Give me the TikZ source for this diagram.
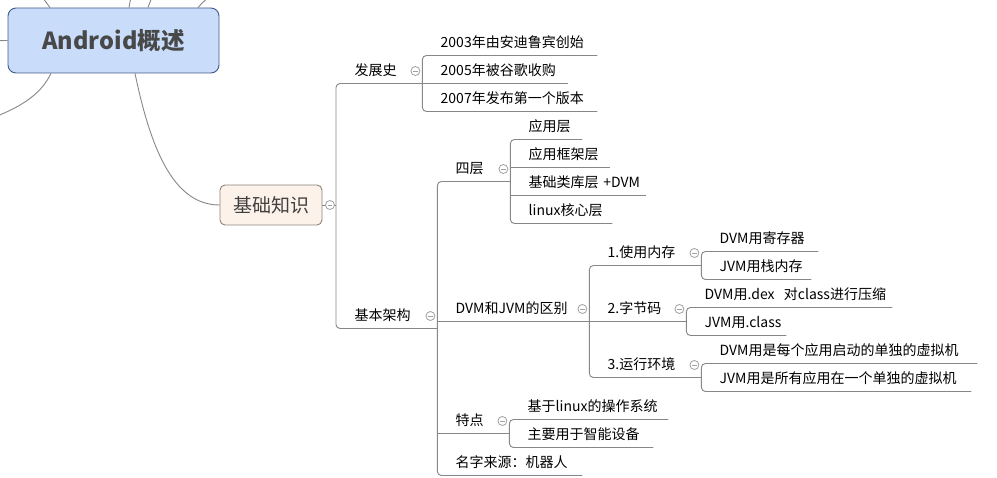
\documentclass[tikz,border=0pt]{standalone}
\usepackage{fontspec}
\setmainfont{Noto Sans CJK SC}
\usepackage{tikz}
\usetikzlibrary{positioning,calc}
\definecolor{rootfill}{RGB}{201,221,250}
\definecolor{rootedge}{RGB}{62,90,138}
\definecolor{roottext}{RGB}{72,72,72}
\definecolor{basefill}{RGB}{253,242,233}
\definecolor{baseedge}{RGB}{140,130,122}
\definecolor{basetext}{RGB}{64,64,64}
\definecolor{linegray}{RGB}{135,135,135}
\definecolor{foldgray}{RGB}{160,160,160}

\begin{document}
\begin{tikzpicture}[
    x=1pt, y=-1pt,
    root/.style={rectangle, draw=rootedge, fill=rootfill, line width=0.9pt, rounded corners=8pt, minimum width=211pt, minimum height=65pt, text=roottext, font=\fontsize{23.5}{28}\selectfont\bfseries},
    base/.style={rectangle, draw=baseedge, fill=basefill, line width=0.9pt, rounded corners=5pt, minimum width=102pt, minimum height=40pt, text=basetext, font=\fontsize{19}{22}\selectfont},
    topic/.style={anchor=south west, inner sep=0pt, text width=#1, align=left, text height=11pt, text depth=7.5pt, font=\fontsize{14}{17}\selectfont},
    branch/.style={draw=linegray, line width=0.9pt, rounded corners=4pt},
    curve/.style={draw=linegray, line width=0.9pt},
    fold/.style={circle, draw=foldgray, fill=white, line width=0.8pt, minimum size=9pt, inner sep=0pt, path picture={\draw[foldgray, line width=0.8pt] ([xshift=-2.2pt]path picture bounding box.center) -- ([xshift=2.2pt]path picture bounding box.center);}}
]
    \clip (0,0) rectangle (997,478);

    \node[root] (rt) at (113.5,40.5) {Android概述};
    \node[base] (jc) at (271,205) {基础知识};
    \coordinate (jcr) at (336,205);

    \node[topic=67.5pt] (fz) at (354.5,83.5) {发展史};
    \node[topic=82.5pt] (jg) at (354.5,328.5) {基本架构};

    \node[topic=156.5pt] (y03) at (440.5,55.5) {2003年由安迪鲁宾创始};
    \node[topic=127.5pt] (y05) at (440.5,83.5) {2005年被谷歌收购};
    \node[topic=156.5pt] (y07) at (440.5,111.5) {2007年发布第一个版本};

    \node[topic=54.5pt] (sc) at (455.5,181.5) {四层};
    \node[topic=133.5pt] (qb) at (455.5,321.5) {DVM和JVM的区别};
    \node[topic=53.5pt] (td) at (455.5,433.5) {特点};
    \node[topic=126.5pt] (mz) at (455.5,475.5) {名字来源：机器人};

    \node[topic=53.5pt] (yy) at (528.5,139.5) {应用层};
    \node[topic=81.5pt] (kj) at (528.5,167.5) {应用框架层};
    \node[topic=117.5pt] (lk) at (528.5,195.5) {基础类库层~+DVM};
    \node[topic=83.5pt] (hx) at (528.5,223.5) {linux核心层};

    \node[topic=93.5pt] (nc) at (607.5,265.5) {1.使用内存};
    \node[topic=78.5pt] (zj) at (607.5,321.5) {2.字节码};
    \node[topic=93.5pt] (hj) at (607.5,377.5) {3.运行环境};

    \node[topic=98.5pt] (nc1) at (719.5,251.5) {DVM用寄存器};
    \node[topic=91.5pt] (nc2) at (719.5,279.5) {JVM用栈内存};
    \node[topic=187.5pt] (zj1) at (704.5,307.5) {DVM用.dex~~对class进行压缩};
    \node[topic=81.5pt] (zj2) at (704.5,335.5) {JVM用.class};
    \node[topic=257.5pt] (hj1) at (719.5,363.5) {DVM用是每个应用启动的单独的虚拟机};
    \node[topic=251.5pt] (hj2) at (719.5,391.5) {JVM用是所有应用在一个单独的虚拟机};

    \node[topic=140.5pt] (td1) at (527.5,419.5) {基于linux的操作系统};
    \node[topic=125.5pt] (td2) at (527.5,447.5) {主要用于智能设备};

    \coordinate (w1) at (-30,41);
    \coordinate (w2) at (-25,124);
    \coordinate (n1) at (33,-14);
    \coordinate (n2) at (133,-14);
    \coordinate (n3) at (156,-14);
    \coordinate (n4) at (222,-14);

    \draw[curve] (rt.west) -- (w1);
    \draw[curve] ([xshift=-62.5pt]rt.south) .. controls (40,96) and (18,110) .. (w2);
    \draw[curve] ([xshift=-63.5pt]rt.north) .. controls (46,2) .. (n1);
    \draw[curve] ([xshift=15.5pt]rt.north) -- (n2);
    \draw[curve] ([xshift=34.5pt]rt.north) -- (n3);
    \draw[curve] ([xshift=84.5pt]rt.north) .. controls (203,2) .. (n4);
    \draw[curve] ([xshift=21.5pt]rt.south) .. controls (150,145) and (172,205) .. (jc.west);

    \draw[branch] (jc.east) -- (jcr);
    \draw[branch] (fz.south east) -| (jcr) |- (jg.south east);
    \draw[branch] (y03.south east) -| (fz.south east) |- (y07.south east);
    \draw[branch] (fz.south east) -- (y05.south east);
    \draw[branch] (sc.south east) -| (jg.south east) |- (mz.south east);
    \draw[branch] (jg.south east |- qb.south) -- (qb.south east);
    \draw[branch] (jg.south east |- td.south) -- (td.south east);
    \draw[branch] (yy.south east) -| (sc.south east) |- (hx.south east);
    \draw[branch] (sc.south east |- kj.south) -- (kj.south east);
    \draw[branch] (sc.south east |- lk.south) -- (lk.south east);
    \draw[branch] (nc.south east) -| (qb.south east) |- (hj.south east);
    \draw[branch] (qb.south east) -- (zj.south east);
    \draw[branch] (nc1.south east) -| (nc.south east) |- (nc2.south east);
    \draw[branch] (zj1.south east) -| (zj.south east) |- (zj2.south east);
    \draw[branch] (hj1.south east) -| (hj.south east) |- (hj2.south east);
    \draw[branch] (td1.south east) -| (td.south east) |- (td2.south east);

    \node[fold, xshift=7.5pt] at (jc.east) {};
    \node[fold, xshift=-7pt, yshift=12.5pt] at (fz.south east) {};
    \node[fold, xshift=-7pt, yshift=12.5pt] at (jg.south east) {};
    \node[fold, xshift=-7pt, yshift=12.5pt] at (sc.south east) {};
    \node[fold, xshift=-7pt, yshift=12.5pt] at (qb.south east) {};
    \node[fold, xshift=-7pt, yshift=12.5pt] at (td.south east) {};
    \node[fold, xshift=-7pt, yshift=12.5pt] at (nc.south east) {};
    \node[fold, xshift=-7pt, yshift=12.5pt] at (zj.south east) {};
    \node[fold, xshift=-7pt, yshift=12.5pt] at (hj.south east) {};
\end{tikzpicture}
\end{document}
